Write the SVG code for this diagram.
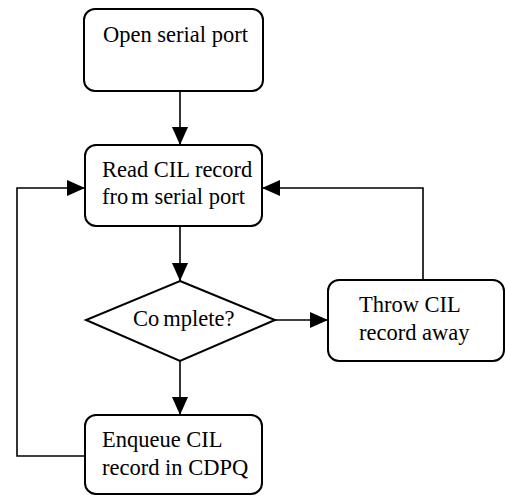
<svg xmlns="http://www.w3.org/2000/svg" width="505" height="496" viewBox="0 0 505 496">
<style>
.box{fill:#fff;stroke:#000;stroke-width:2}
.ln{fill:none;stroke:#000;stroke-width:1.6}
.t{font-family:"Liberation Serif","Times New Roman",serif;font-size:22.5px;fill:#000}
</style>
<defs>
<marker id="ah" markerUnits="userSpaceOnUse" markerWidth="18" markerHeight="18" viewBox="0 0 18 18" refX="18" refY="9" orient="auto">
<path d="M0,1 L18,9 L0,17 Z" fill="#000"/>
</marker>
</defs>
<g id="connectors">
<path class="ln" d="M180,91 V145" marker-end="url(#ah)"/>
<path class="ln" d="M180,226 V281" marker-end="url(#ah)"/>
<path class="ln" d="M180,361 V415" marker-end="url(#ah)"/>
<path class="ln" d="M275,320 H328" marker-end="url(#ah)"/>
<path class="ln" d="M423,280 V188 H262" marker-end="url(#ah)"/>
<path class="ln" d="M85,456 H17 V188 H85" marker-end="url(#ah)"/>
</g>
<g id="open">
<rect class="box" x="84" y="9" width="179" height="82" rx="11"/>
<text class="t" x="103" y="42">Open serial port</text>
</g>
<g id="read">
<rect class="box" x="85" y="145" width="177" height="81" rx="11"/>
<text class="t" x="102" y="177">Read CIL record</text>
<text class="t" x="102" y="204"><tspan>fro</tspan><tspan dx="3">m serial port</tspan></text>
</g>
<g id="complete">
<polygon class="box" points="180,281 275,320 180,361 86,320"/>
<text class="t" x="133" y="326"><tspan>Co</tspan><tspan dx="4">mplete?</tspan></text>
</g>
<g id="throw">
<rect class="box" x="328" y="280" width="176" height="81" rx="11"/>
<text class="t" x="359" y="312">Throw CIL</text>
<text class="t" x="359" y="340">record away</text>
</g>
<g id="enqueue">
<rect class="box" x="85" y="415" width="177" height="79" rx="11"/>
<text class="t" x="102" y="447">Enqueue CIL</text>
<text class="t" x="102" y="475">record in CDPQ</text>
</g>
</svg>
